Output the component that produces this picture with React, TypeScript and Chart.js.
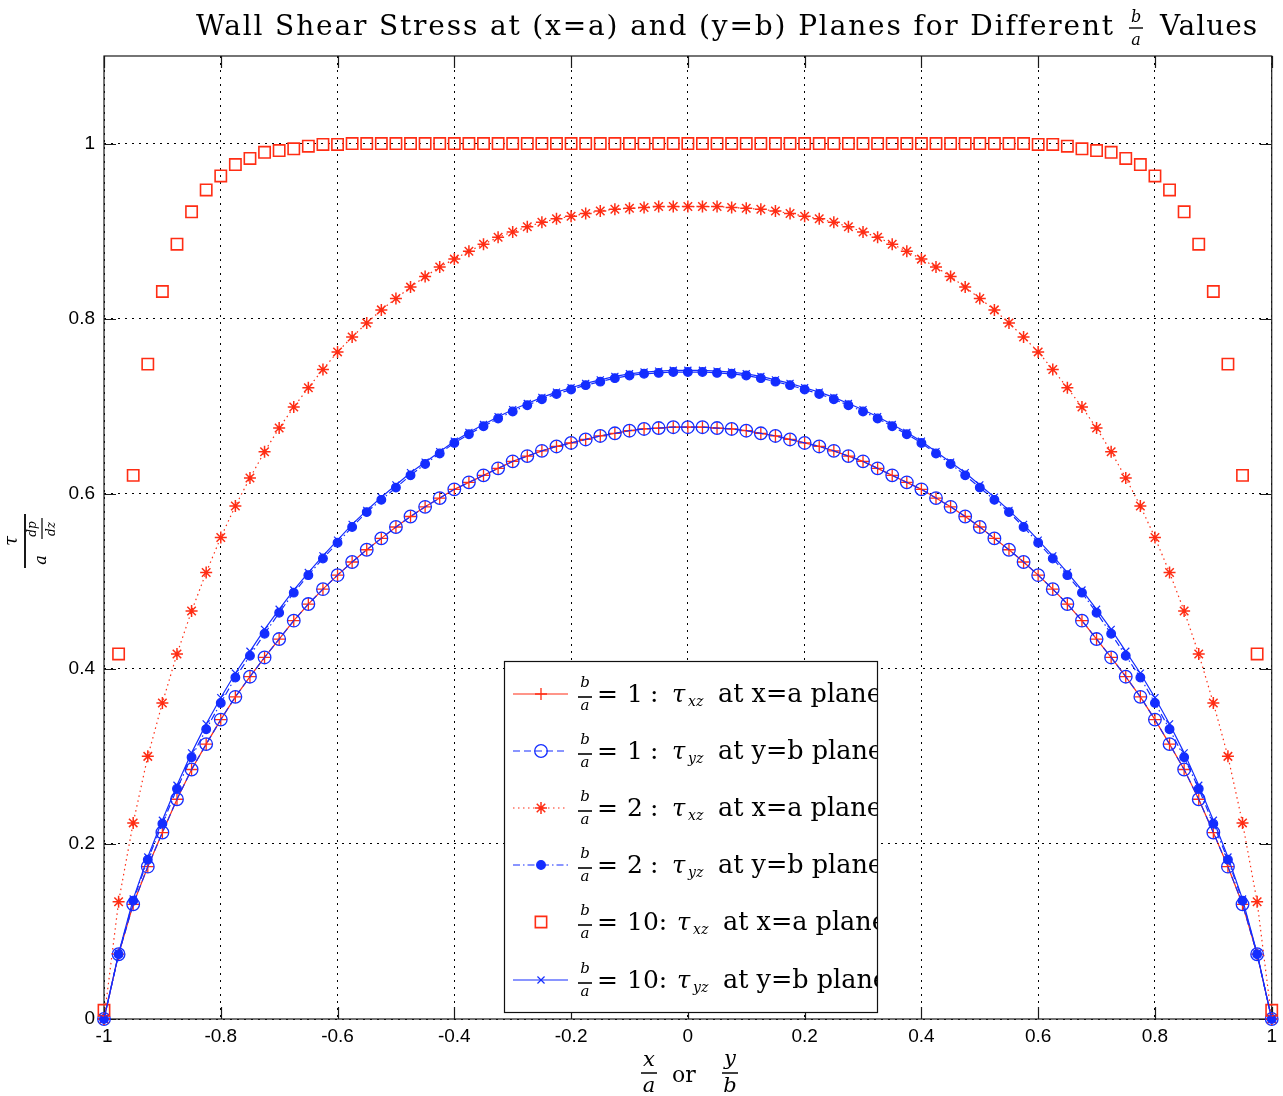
import React, { useEffect, useRef } from "react";
import { Chart, registerables } from "chart.js";

Chart.register(...registerables);

const RED = "rgb(255,45,20)";
const BLUE = "rgb(20,45,255)";

const xValues = [
  -1, -0.975, -0.95, -0.925, -0.9, -0.875, -0.85, -0.825, -0.8, -0.775,
  -0.75, -0.725, -0.7, -0.675, -0.65, -0.625, -0.6, -0.575, -0.55, -0.525,
  -0.5, -0.475, -0.45, -0.425, -0.4, -0.375, -0.35, -0.325, -0.3, -0.275,
  -0.25, -0.225, -0.2, -0.175, -0.15, -0.125, -0.1, -0.075, -0.05, -0.025,
  0,
  0.025, 0.05, 0.075, 0.1, 0.125, 0.15, 0.175, 0.2, 0.225, 0.25,
  0.275, 0.3, 0.325, 0.35, 0.375, 0.4, 0.425, 0.45, 0.475, 0.5,
  0.525, 0.55, 0.575, 0.6, 0.625, 0.65, 0.675, 0.7, 0.725, 0.75,
  0.775, 0.8, 0.825, 0.85, 0.875, 0.9, 0.925, 0.95, 0.975, 1,
];

// b/a = 1 : tau_xz at x=a plane
const tauXZ_ba1 = [
  0.000, 0.074, 0.131, 0.174, 0.213, 0.251, 0.285, 0.314, 0.342, 0.368,
  0.391, 0.413, 0.434, 0.455, 0.474, 0.491, 0.507, 0.522, 0.536, 0.549,
  0.562, 0.574, 0.585, 0.595, 0.605, 0.613, 0.621, 0.629, 0.637, 0.643,
  0.649, 0.654, 0.658, 0.662, 0.666, 0.669, 0.672, 0.674, 0.675, 0.676,
  0.676,
  0.676, 0.675, 0.674, 0.672, 0.669, 0.666, 0.662, 0.658, 0.654, 0.649,
  0.643, 0.637, 0.629, 0.621, 0.613, 0.605, 0.595, 0.585, 0.574, 0.562,
  0.549, 0.536, 0.522, 0.507, 0.491, 0.474, 0.455, 0.434, 0.413, 0.391,
  0.368, 0.342, 0.314, 0.285, 0.251, 0.213, 0.174, 0.131, 0.074, 0.000,
];

// b/a = 1 : tau_yz at y=b plane
const tauYZ_ba1 = [
  0.000, 0.074, 0.131, 0.174, 0.213, 0.251, 0.285, 0.314, 0.342, 0.368,
  0.391, 0.413, 0.434, 0.455, 0.474, 0.491, 0.507, 0.522, 0.536, 0.549,
  0.562, 0.574, 0.585, 0.595, 0.605, 0.613, 0.621, 0.629, 0.637, 0.643,
  0.649, 0.654, 0.658, 0.662, 0.666, 0.669, 0.672, 0.674, 0.675, 0.676,
  0.676,
  0.676, 0.675, 0.674, 0.672, 0.669, 0.666, 0.662, 0.658, 0.654, 0.649,
  0.643, 0.637, 0.629, 0.621, 0.613, 0.605, 0.595, 0.585, 0.574, 0.562,
  0.549, 0.536, 0.522, 0.507, 0.491, 0.474, 0.455, 0.434, 0.413, 0.391,
  0.368, 0.342, 0.314, 0.285, 0.251, 0.213, 0.174, 0.131, 0.074, 0.000,
];

// b/a = 2 : tau_xz at x=a plane
const tauXZ_ba2 = [
  0.000, 0.134, 0.224, 0.300, 0.361, 0.417, 0.466, 0.510, 0.550, 0.586,
  0.618, 0.648, 0.675, 0.699, 0.721, 0.742, 0.762, 0.779, 0.795, 0.810,
  0.823, 0.836, 0.848, 0.859, 0.868, 0.877, 0.885, 0.893, 0.899, 0.905,
  0.910, 0.914, 0.917, 0.920, 0.923, 0.925, 0.926, 0.927, 0.928, 0.928,
  0.928,
  0.928, 0.928, 0.927, 0.926, 0.925, 0.923, 0.920, 0.917, 0.914, 0.910,
  0.905, 0.899, 0.893, 0.885, 0.877, 0.868, 0.859, 0.848, 0.836, 0.823,
  0.810, 0.795, 0.779, 0.762, 0.742, 0.721, 0.699, 0.675, 0.648, 0.618,
  0.586, 0.550, 0.510, 0.466, 0.417, 0.361, 0.300, 0.224, 0.134, 0.000,
];

// b/a = 2 : tau_yz at y=b plane
const tauYZ_ba2 = [
  0.000, 0.074, 0.135, 0.182, 0.223, 0.263, 0.299, 0.331, 0.361, 0.390,
  0.415, 0.440, 0.464, 0.487, 0.507, 0.526, 0.544, 0.562, 0.579, 0.593,
  0.607, 0.621, 0.634, 0.646, 0.658, 0.668, 0.677, 0.686, 0.694, 0.701,
  0.708, 0.714, 0.719, 0.724, 0.728, 0.732, 0.735, 0.737, 0.738, 0.739,
  0.739,
  0.739, 0.738, 0.737, 0.735, 0.732, 0.728, 0.724, 0.719, 0.714, 0.708,
  0.701, 0.694, 0.686, 0.677, 0.668, 0.658, 0.646, 0.634, 0.621, 0.607,
  0.593, 0.579, 0.562, 0.544, 0.526, 0.507, 0.487, 0.464, 0.440, 0.415,
  0.390, 0.361, 0.331, 0.299, 0.263, 0.223, 0.182, 0.135, 0.074, 0.000,
];

// b/a = 10 : tau_xz at x=a plane
const tauXZ_ba10 = [
  0.010, 0.417, 0.621, 0.748, 0.831, 0.885, 0.922, 0.947, 0.963, 0.976,
  0.983, 0.990, 0.992, 0.994, 0.997, 0.999, 0.999, 1.000, 1.000, 1.000,
  1.000, 1.000, 1.000, 1.000, 1.000, 1.000, 1.000, 1.000, 1.000, 1.000,
  1.000, 1.000, 1.000, 1.000, 1.000, 1.000, 1.000, 1.000, 1.000, 1.000,
  1.000,
  1.000, 1.000, 1.000, 1.000, 1.000, 1.000, 1.000, 1.000, 1.000, 1.000,
  1.000, 1.000, 1.000, 1.000, 1.000, 1.000, 1.000, 1.000, 1.000, 1.000,
  1.000, 1.000, 1.000, 0.999, 0.999, 0.997, 0.994, 0.992, 0.990, 0.983,
  0.976, 0.963, 0.947, 0.922, 0.885, 0.831, 0.748, 0.621, 0.417, 0.010,
];

// b/a = 10 : tau_yz at y=b plane
const tauYZ_ba10 = [
  0.000, 0.075, 0.137, 0.185, 0.227, 0.267, 0.304, 0.337, 0.367, 0.395,
  0.420, 0.445, 0.468, 0.490, 0.510, 0.529, 0.547, 0.565, 0.581, 0.596,
  0.610, 0.624, 0.636, 0.648, 0.660, 0.670, 0.679, 0.688, 0.696, 0.703,
  0.710, 0.716, 0.721, 0.726, 0.730, 0.734, 0.737, 0.739, 0.740, 0.741,
  0.741,
  0.741, 0.740, 0.739, 0.737, 0.734, 0.730, 0.726, 0.721, 0.716, 0.710,
  0.703, 0.696, 0.688, 0.679, 0.670, 0.660, 0.648, 0.636, 0.624, 0.610,
  0.596, 0.581, 0.565, 0.547, 0.529, 0.510, 0.490, 0.468, 0.445, 0.420,
  0.395, 0.367, 0.337, 0.304, 0.267, 0.227, 0.185, 0.137, 0.075, 0.000,
];

const xTickValues = [-1, -0.8, -0.6, -0.4, -0.2, 0, 0.2, 0.4, 0.6, 0.8, 1];
const yTickValues = [0, 0.2, 0.4, 0.6, 0.8, 1];

const legendRatios = ["1", "1", "2", "2", "10", "10"];
const legendSubs = ["xz", "yz", "xz", "yz", "xz", "yz"];
const legendPlanes = ["x=a", "y=b", "x=a", "y=b", "x=a", "y=b"];

type Style = {
  data: number[];
  color: string;
  dash: number[];
  showLine: boolean;
  pointStyle: string;
  radius: number;
  filled: boolean;
  width: number;
};

const series: Style[] = [
  { data: tauXZ_ba1, color: RED, dash: [], showLine: true, pointStyle: "cross", radius: 6, filled: false, width: 1.3 },
  { data: tauYZ_ba1, color: BLUE, dash: [7, 4], showLine: true, pointStyle: "circle", radius: 6.3, filled: false, width: 1.3 },
  { data: tauXZ_ba2, color: RED, dash: [1.5, 3.5], showLine: true, pointStyle: "star", radius: 6, filled: false, width: 1.5 },
  { data: tauYZ_ba2, color: BLUE, dash: [7, 3, 1.5, 3], showLine: true, pointStyle: "circle", radius: 4.3, filled: true, width: 1.3 },
  { data: tauXZ_ba10, color: RED, dash: [], showLine: false, pointStyle: "rect", radius: 8, filled: false, width: 1.6 },
  { data: tauYZ_ba10, color: BLUE, dash: [], showLine: true, pointStyle: "crossRot", radius: 5, filled: false, width: 1.2 },
];

const SERIF = "'DejaVu Serif', 'Liberation Serif', serif";
const SANS = "'Liberation Sans', Arial, sans-serif";

function drawMarker(ctx: CanvasRenderingContext2D, s: Style, x: number, y: number) {
  const r = s.radius;
  ctx.save();
  ctx.setLineDash([]);
  ctx.strokeStyle = s.color;
  ctx.fillStyle = s.color;
  ctx.lineWidth = s.width;
  ctx.beginPath();
  const d = r * Math.SQRT1_2;
  switch (s.pointStyle) {
    case "cross":
      ctx.moveTo(x - r, y); ctx.lineTo(x + r, y);
      ctx.moveTo(x, y - r); ctx.lineTo(x, y + r);
      ctx.stroke();
      break;
    case "crossRot":
      ctx.moveTo(x - d, y - d); ctx.lineTo(x + d, y + d);
      ctx.moveTo(x - d, y + d); ctx.lineTo(x + d, y - d);
      ctx.stroke();
      break;
    case "star":
      ctx.moveTo(x - r, y); ctx.lineTo(x + r, y);
      ctx.moveTo(x, y - r); ctx.lineTo(x, y + r);
      ctx.moveTo(x - d, y - d); ctx.lineTo(x + d, y + d);
      ctx.moveTo(x - d, y + d); ctx.lineTo(x + d, y - d);
      ctx.stroke();
      break;
    case "circle":
      ctx.arc(x, y, r, 0, Math.PI * 2);
      if (s.filled) ctx.fill();
      ctx.stroke();
      break;
    case "rect":
      ctx.rect(x - d, y - d, 2 * d, 2 * d);
      ctx.stroke();
      break;
  }
  ctx.restore();
}

function text(ctx: CanvasRenderingContext2D, t: string, x: number, y: number, font: string, align: CanvasTextAlign = "left", baseline: CanvasTextBaseline = "alphabetic") {
  ctx.font = font;
  ctx.textAlign = align;
  ctx.textBaseline = baseline;
  ctx.fillText(t, x, y);
}

function hbar(ctx: CanvasRenderingContext2D, x1: number, x2: number, y: number, w = 1.4) {
  ctx.save();
  ctx.setLineDash([]);
  ctx.lineWidth = w;
  ctx.strokeStyle = "#000";
  ctx.beginPath();
  ctx.moveTo(x1, y);
  ctx.lineTo(x2, y);
  ctx.stroke();
  ctx.restore();
}

const decorPlugin = {
  id: "decor",
  beforeDatasetsDraw(chart: any) {
    const { ctx, chartArea: a } = chart;
    const xs = chart.scales.x;
    const ys = chart.scales.y;
    ctx.save();
    ctx.setLineDash([]);
    ctx.strokeStyle = "#1a1a1a";
    ctx.lineWidth = 1.2;
    ctx.strokeRect(a.left, a.top, a.right - a.left, a.bottom - a.top);
    ctx.beginPath();
    const tl = 12;
    for (const v of xTickValues) {
      const px = Math.round(xs.getPixelForValue(v)) + 0.5;
      ctx.moveTo(px, a.bottom); ctx.lineTo(px, a.bottom - tl);
      ctx.moveTo(px, a.top); ctx.lineTo(px, a.top + tl);
    }
    for (const v of yTickValues) {
      const py = Math.round(ys.getPixelForValue(v)) + 0.5;
      ctx.moveTo(a.left, py); ctx.lineTo(a.left + tl, py);
      ctx.moveTo(a.right, py); ctx.lineTo(a.right - tl, py);
    }
    ctx.stroke();
    ctx.restore();
  },
  afterDraw(chart: any) {
    const { ctx } = chart;
    ctx.save();
    ctx.fillStyle = "#000";

    // ---- Title ----
    const part1 = "Wall Shear Stress at (x=a) and (y=b) Planes for Different";
    const tFont = `28px ${SERIF}`;
    ctx.font = tFont;
    (ctx as any).letterSpacing = "0px";
    const w1 = ctx.measureText(part1).width;
    const extra = Math.max(0, (918 - w1) / part1.length);
    (ctx as any).letterSpacing = `${extra.toFixed(2)}px`;
    text(ctx, part1, 196, 35, tFont);
    ctx.font = tFont;
    const w2 = ctx.measureText("Values").width;
    const extra2 = Math.max(0, (98 - (w2 - 6 * extra)) / 6);
    (ctx as any).letterSpacing = `${extra2.toFixed(2)}px`;
    text(ctx, "Values", 1160, 35, tFont);
    (ctx as any).letterSpacing = "0px";
    text(ctx, "b", 1136, 22, `italic 16px ${SERIF}`, "center");
    hbar(ctx, 1129, 1143, 28, 1.4);
    text(ctx, "a", 1136, 45, `italic 16px ${SERIF}`, "center");

    // ---- X axis label ----
    text(ctx, "x", 649, 1061, `italic 21px ${SERIF}`, "center", "middle");
    hbar(ctx, 641, 657, 1073, 1.5);
    text(ctx, "a", 649, 1087, `italic 21px ${SERIF}`, "center", "middle");
    text(ctx, "or", 684, 1082, `22px ${SERIF}`, "center");
    text(ctx, "y", 730, 1060, `italic 21px ${SERIF}`, "center", "middle");
    hbar(ctx, 722, 738, 1073, 1.5);
    text(ctx, "b", 730, 1087, `italic 21px ${SERIF}`, "center", "middle");

    // ---- Y axis label (rotated) ----
    ctx.save();
    ctx.translate(25, 541);
    ctx.rotate(-Math.PI / 2);
    text(ctx, "τ", 0, -13, `italic 18px ${SERIF}`, "center", "middle");
    hbar(ctx, -27, 27, 0, 1.8);
    text(ctx, "a", -19, 17, `italic 16px ${SERIF}`, "center", "middle");
    text(ctx, "dp", 12, 8, `italic 12px ${SERIF}`, "center", "middle");
    hbar(ctx, 2, 23, 17, 1.2);
    text(ctx, "dz", 12, 27, `italic 12px ${SERIF}`, "center", "middle");
    ctx.restore();

    // ---- Legend ----
    const L = 504, T = 661, R = 877, B = 1012;
    ctx.save();
    ctx.fillStyle = "#fff";
    ctx.fillRect(L, T, R - L, B - T);
    ctx.setLineDash([]);
    ctx.strokeStyle = "#111";
    ctx.lineWidth = 1.2;
    ctx.strokeRect(L + 0.5, T + 0.5, R - L, B - T);
    ctx.beginPath();
    ctx.rect(L, T, R - L, B - T);
    ctx.clip();
    const rowY = [694, 751, 808, 865, 922, 980];
    series.forEach((s, i) => {
      const y = rowY[i];
      if (s.showLine) {
        ctx.save();
        ctx.strokeStyle = s.color;
        ctx.lineWidth = 1.2;
        ctx.setLineDash(s.dash);
        ctx.beginPath();
        ctx.moveTo(513, y);
        ctx.lineTo(568, y);
        ctx.stroke();
        ctx.restore();
      }
      drawMarker(ctx, s, 541, y);
      ctx.fillStyle = "#000";
      // fraction b/a
      text(ctx, "b", 585, y - 11, `italic 15px ${SERIF}`, "center", "middle");
      hbar(ctx, 578, 592, y + 3, 1.6);
      text(ctx, "a", 585, y + 12, `italic 15px ${SERIF}`, "center", "middle");
      const big = legendRatios[i].length > 1;
      text(ctx, "=", 597, y + 8, `25px ${SERIF}`);
      if (big) {
        text(ctx, legendRatios[i] + ":", 627, y + 8, `25px ${SERIF}`);
      } else {
        text(ctx, legendRatios[i], 627, y + 8, `25px ${SERIF}`);
        text(ctx, ":", 650, y + 8, `25px ${SERIF}`);
      }
      const off = big ? 5 : 0;
      text(ctx, "τ", 672 + off, y + 8, `italic 24px ${SERIF}`);
      text(ctx, legendSubs[i], 688 + off, y + 12, `italic 14px ${SERIF}`);
      text(ctx, "at " + legendPlanes[i] + " plane", 718 + off, y + 8, `25.5px ${SERIF}`);
    });
    ctx.restore();

    ctx.restore();
  },
};

export default function App() {
  const canvasRef = useRef<HTMLCanvasElement | null>(null);

  useEffect(() => {
    const canvas = canvasRef.current;
    if (!canvas) return;
    const datasets = series.map((s, i) => ({
      label: `series${i}`,
      data: xValues.map((x, k) => ({ x, y: s.data[k] })),
      borderColor: s.color,
      backgroundColor: s.filled ? s.color : "rgba(0,0,0,0)",
      borderWidth: 1.2,
      borderDash: s.dash,
      showLine: s.showLine,
      pointStyle: s.pointStyle,
      pointRadius: s.radius,
      pointBorderWidth: s.width,
      pointBorderColor: s.color,
      pointBackgroundColor: s.filled ? s.color : "rgba(0,0,0,0)",
      tension: 0,
      fill: false,
      clip: false,
      order: series.length - i,
    }));

    const chart = new Chart(canvas, {
      type: "line",
      data: { datasets } as any,
      options: {
        responsive: false,
        animation: false,
        events: [],
        layout: { padding: { top: 56, right: 8, left: 0, bottom: 0 } },
        plugins: {
          legend: { display: false },
          tooltip: { enabled: false },
          title: { display: false },
        },
        scales: {
          x: {
            type: "linear",
            min: -1,
            max: 1,
            afterBuildTicks: (s: any) => {
              s.ticks = xTickValues.map((v) => ({ value: v }));
            },
            afterFit: (s: any) => {
              s.height = 77;
            },
            ticks: {
              color: "#000",
              font: { family: SANS, size: 19 },
              padding: 6,
              maxRotation: 0,
              autoSkip: false,
              callback: (v: any) => String(v),
            },
            grid: { color: "#000", lineWidth: 1, drawTicks: false },
            border: { display: false, dash: [2, 5] },
          },
          y: {
            type: "linear",
            min: 0,
            max: 1.1,
            afterBuildTicks: (s: any) => {
              s.ticks = yTickValues.map((v) => ({ value: v }));
            },
            afterFit: (s: any) => {
              s.width = 104;
            },
            ticks: {
              color: "#000",
              font: { family: SANS, size: 19 },
              padding: 9,
              autoSkip: false,
              callback: (v: any) => String(v),
            },
            grid: { color: "#000", lineWidth: 1, drawTicks: false },
            border: { display: false, dash: [2, 5] },
          },
        },
      } as any,
      plugins: [decorPlugin],
    });
    return () => chart.destroy();
  }, []);

  return (
    <div style={{ position: "absolute", left: 0, top: 0, width: 1283, height: 1096, background: "#fff" }}>
      <canvas ref={canvasRef} width={1283} height={1096} style={{ width: 1283, height: 1096, display: "block" }} />
    </div>
  );
}
